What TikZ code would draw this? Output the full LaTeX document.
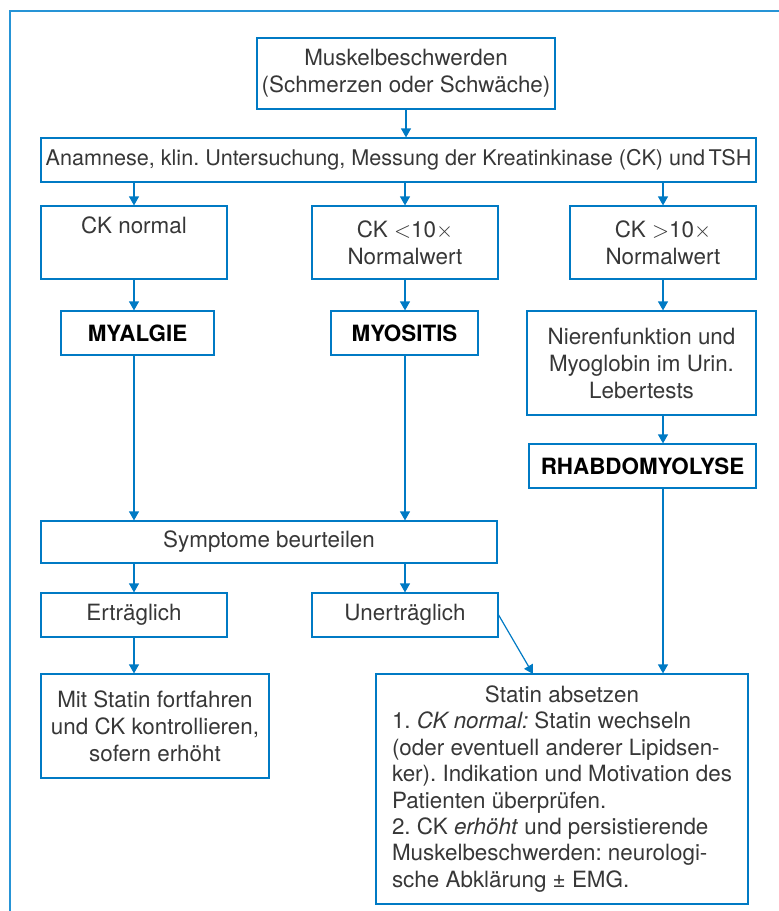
\documentclass[tikz,border=0pt]{standalone}
\usepackage{fontspec}
\setmainfont{TeX Gyre Heros}
\usetikzlibrary{arrows.meta}
\definecolor{flowblue}{RGB}{0,122,196}
\definecolor{frameblue}{RGB}{38,148,214}
\definecolor{txtgray}{RGB}{55,55,55}
\frenchspacing
\tikzset{
  flowbox/.style={draw=flowblue, line width=0.6pt, text=txtgray, align=center,
    inner sep=2pt, font=\fontsize{11.2}{13.5}\selectfont},
  boldbox/.style={flowbox, text=black, font=\fontsize{11.2}{13.5}\selectfont\bfseries},
  flowarrow/.style={draw=flowblue, line width=0.6pt, -{Triangle[width=5pt,length=4.5pt]}},
}
\begin{document}
\begin{tikzpicture}[x=0.5pt,y=-0.5pt]
\useasboundingbox (0,0) rectangle (779,911);
% Frame
\draw[frameblue, line width=1pt] (9.5,911) |- (779,10.5);
%TOP
\node[flowbox, minimum width=149pt, minimum height=35.5pt] (muskel) at (406,73.5)
  {Muskelbeschwerden\\(Schmerzen oder Schwäche)};
\node[flowbox, minimum width=357.5pt, minimum height=22pt, font=\fontsize{10.8}{13.5}\selectfont] (anamnese) at (398.5,160)
  {Anamnese, klin. Untersuchung, Messung der Kreatinkinase (CK) und\,TSH};
%CK
\node[flowbox, minimum width=93pt, minimum height=36.5pt] (cknormal) at (134,242.5) {CK normal\\\strut};
\node[flowbox, minimum width=93pt, minimum height=36.5pt] (cklow) at (405,242.5) {CK $<$10$\times$\\Normalwert};
\node[flowbox, minimum width=93pt, minimum height=36.5pt] (ckhigh) at (663,242.5) {CK $>$10$\times$\\Normalwert};
%DIAGNOSIS
\node[boldbox, minimum width=76.5pt, minimum height=22pt] (myalgie) at (137.5,333) {MYALGIE};
\node[boldbox, minimum width=73.5pt, minimum height=22pt] (myositis) at (404.5,333) {MYOSITIS};
\node[flowbox, minimum width=114.5pt, minimum height=52pt] (niere) at (641.5,363)
  {Nierenfunktion und\\Myoglobin im Urin.\\Lebertests};
\node[boldbox, minimum width=113.5pt, minimum height=22pt] (rhabdo) at (642.5,466) {RHABDOMYOLYSE};
%SYMPTOMS
\node[flowbox, minimum width=228pt, minimum height=21pt] (symptome) at (269,542) {Symptome beurteilen};
\node[flowbox, minimum width=93pt, minimum height=22pt] (ertr) at (134,615) {Erträglich};
\node[flowbox, minimum width=93pt, minimum height=22pt] (unertr) at (405,615) {Unerträglich};
%BOT
\node[flowbox, minimum width=114pt, minimum height=52pt] (fortfahren) at (155,726)
  {Mit Statin fortfahren\\und CK kontrollieren,\\sofern erhöht};
\node[flowbox, align=none, inner xsep=8pt, text width=170pt, minimum height=115pt,
  font=\fontsize{11.2}{13.2}\selectfont] (absetzen) at (562,789)
  {\centering Statin absetzen\par
   \raggedright 1. \textit{CK normal:} Statin wechseln\\
   (oder eventuell anderer Lipidsen-\\
   ker). Indikation und Motivation des\\
   Patienten überprüfen.\\
   2. CK \textit{erhöht} und persistierende\\
   Muskelbeschwerden: neurologi-\\
   sche Abklärung ± EMG.};
\coordinate (absin) at (533,674);
% Arrows
\draw[flowarrow] (muskel.south) -- (muskel.south |- anamnese.north);
\draw[flowarrow] (anamnese.south -| cknormal.north) -- (cknormal.north);
\draw[flowarrow] (anamnese.south -| cklow.north) -- (cklow.north);
\draw[flowarrow] (anamnese.south -| ckhigh.north) -- (ckhigh.north);
\draw[flowarrow] (cknormal.south) -- (cknormal.south |- myalgie.north);
\draw[flowarrow] (cklow.south) -- (cklow.south |- myositis.north);
\draw[flowarrow] (ckhigh.south) -- (ckhigh.south |- niere.north);
\draw[flowarrow] (niere.south -| ckhigh.south) -- (rhabdo.north -| ckhigh.south);
\draw[flowarrow] (myalgie.south -| cknormal.south) -- (symptome.north -| cknormal.south);
\draw[flowarrow] (myositis.south -| cklow.south) -- (symptome.north -| cklow.south);
\draw[flowarrow] (symptome.south -| ertr.north) -- (ertr.north);
\draw[flowarrow] (symptome.south -| unertr.north) -- (unertr.north);
\draw[flowarrow] (ertr.south) -- (ertr.south |- fortfahren.north);
\draw[flowarrow] (unertr.east) -- (absin);
\draw[flowarrow] (rhabdo.south -| ckhigh.south) -- (absetzen.north -| ckhigh.south);
\end{tikzpicture}
\end{document}
